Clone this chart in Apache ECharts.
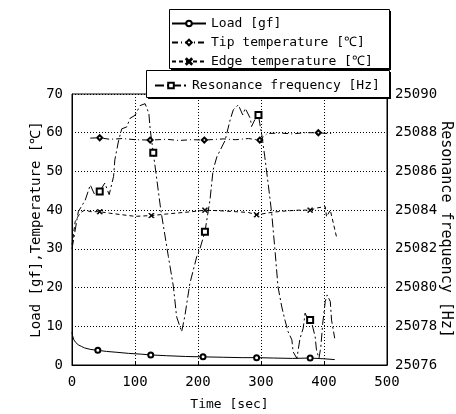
<!DOCTYPE html>
<html>
<head>
<meta charset="utf-8">
<script src="https://cdn.jsdelivr.net/npm/echarts@6/dist/echarts.min.js"></script>
<style>
    html, body { margin: 0; padding: 0; background: #fff; }
    #chart { width: 456px; height: 414px; }
</style>
</head>
<body>
<div id="chart"></div>
<script>
// 读图得到的数据
const xTicks = [0, 100, 200, 300, 400, 500];

const loadTime = [0, 1, 3, 6, 10, 15, 20, 30, 41, 55, 70, 90, 110, 125, 150, 180, 208, 240, 270, 293, 320, 350, 378, 400, 417];
const loadVal = [8.5, 7.5, 6.5, 5.8, 5.2, 4.8, 4.4, 4.0, 3.8, 3.5, 3.3, 3.0, 2.8, 2.6, 2.4, 2.2, 2.1, 2.0, 1.9, 1.9, 1.8, 1.7, 1.8, 1.6, 1.4];
const loadMarks = [41, 125, 208, 293, 378];

const tipTime = [29, 44, 60, 80, 100, 124, 150, 170, 190, 210, 240, 260, 280, 298, 310, 330, 350, 370, 391, 405, 412];
const tipVal = [58.6, 58.7, 58.3, 58.5, 58.2, 58.1, 58.3, 58.0, 58.2, 58.1, 58.4, 58.2, 58.5, 58.1, 59.8, 59.9, 59.7, 60.0, 60.0, 59.8, 59.8];
const tipMarks = [44, 124, 210, 298, 391];

const edgeTime = [0, 5, 10, 15, 20, 30, 44, 60, 80, 100, 126, 150, 170, 190, 211, 240, 260, 280, 293, 320, 340, 360, 378, 390, 402, 404, 410, 415, 420];
const edgeVal = [31, 37, 38.5, 39.5, 40, 39.6, 39.6, 39.2, 38.8, 38.4, 38.6, 39.0, 39.3, 39.6, 40.0, 39.8, 39.6, 39.4, 38.8, 39.5, 39.8, 40.0, 40.0, 40.6, 40.9, 38.3, 40.0, 36.5, 33.0];
const edgeMarks = [44, 126, 211, 293, 378];

const resoTime = [0, 10, 21, 29, 36, 44, 52, 59, 66, 68, 74, 79, 87, 92, 100, 108, 116, 122, 124, 129, 134, 141, 153, 161, 166, 174, 179, 187, 198, 203, 211, 219, 224, 230, 243, 251, 256, 264, 271, 275, 283, 285, 290, 296, 298, 301, 306, 312, 317, 322, 327, 333, 338, 343, 349, 351, 357, 359, 362, 367, 370, 375, 378, 380, 386, 388, 392, 395, 398, 402, 405, 410, 412, 417];
const resoHz = [25082.0, 25083.92, 25084.52, 25085.3, 25084.8, 25084.96, 25085.4, 25084.8, 25085.74, 25086.6, 25087.6, 25088.2, 25088.3, 25088.74, 25088.9, 25089.4, 25089.5, 25089.0, 25088.2, 25086.96, 25085.74, 25084.0, 25081.6, 25080.04, 25078.5, 25077.72, 25078.5, 25080.2, 25081.6, 25082.0, 25082.88, 25084.52, 25086.08, 25086.76, 25087.6, 25088.66, 25089.18, 25089.44, 25088.92, 25089.26, 25088.74, 25088.32, 25088.66, 25088.92, 25088.48, 25087.96, 25086.76, 25085.2, 25083.84, 25082.0, 25080.04, 25079.0, 25078.32, 25077.72, 25077.3, 25076.68, 25076.34, 25076.78, 25077.38, 25077.9, 25078.68, 25078.32, 25078.32, 25078.24, 25077.46, 25076.78, 25076.34, 25076.94, 25078.16, 25079.28, 25079.62, 25079.28, 25078.32, 25077.38];
const resoMarks = [44, 129, 211, 296, 378];

const FONT = 'DejaVu Sans Mono';
const CROSS = 'path://M0,1L1,0L5,4L9,0L10,1L6,5L10,9L9,10L5,6L1,10L0,9L4,5Z';

// 只在标记点显示符号
function buildData(times, vals, marks) {
    return times.map((t, i) => {
        const item = { value: [t, vals[i]] };
        if (marks.indexOf(t) < 0) {
            item.symbol = 'none';
        }
        return item;
    });
}

function lineSeries(name, data, symbol, size, dash, yIndex) {
    return {
        name: name,
        type: 'line',
        yAxisIndex: yIndex,
        data: data,
        symbol: symbol,
        symbolSize: size,
        showSymbol: true,
        z: 5,
        lineStyle: { color: '#000', width: 1, type: dash },
        itemStyle: { color: '#000', borderColor: '#000', borderWidth: 1 }
    };
}

const myEcharts = echarts.init(document.getElementById('chart'));
const option = {
    animation: false,
    backgroundColor: '#fff',
    grid: {
        left: 72,
        right: 69,
        top: 94,
        bottom: 49,
        outerBoundsMode: 'none',
        show: true,
        borderColor: '#000',
        borderWidth: 1
    },
    graphic: [
        { type: 'rect', left: 171, top: 11, z: 10, shape: { width: 220, height: 59 }, style: { fill: '#000' } },
        { type: 'rect', left: 169, top: 9, z: 11, shape: { width: 220, height: 59 }, style: { fill: '#fff', stroke: '#000', lineWidth: 1 } },
        { type: 'rect', left: 148, top: 72, z: 10, shape: { width: 243, height: 27 }, style: { fill: '#000' } },
        { type: 'rect', left: 146, top: 70, z: 11, shape: { width: 243, height: 27 }, style: { fill: '#fff', stroke: '#000', lineWidth: 1 } }
    ],
    legend: [
        {
            data: ['Load [gf]', 'Tip temperature [℃]', 'Edge temperature [℃]'],
            orient: 'vertical',
            left: 171,
            top: 17,
            padding: 0,
            itemWidth: 34,
            itemHeight: 7,
            itemGap: 6,
            selectedMode: false,
            z: 20,
            textStyle: { color: '#000', fontSize: 13, fontFamily: FONT }
        },
        {
            data: ['Resonance frequency [Hz]'],
            left: 154,
            top: 79,
            padding: 0,
            itemWidth: 32,
            itemHeight: 7,
            selectedMode: false,
            z: 20,
            textStyle: { color: '#000', fontSize: 13, fontFamily: FONT }
        }
    ],
    xAxis: {
        type: 'value',
        min: xTicks[0],
        max: xTicks[xTicks.length - 1],
        interval: 100,
        name: 'Time [sec]',
        nameLocation: 'middle',
        nameGap: 33,
        nameMoveOverlap: false,
        nameTextStyle: { color: '#000', fontSize: 13, fontFamily: FONT },
        axisLine: { lineStyle: { color: '#000', width: 1 } },
        axisTick: { inside: true, length: 4, lineStyle: { color: '#000' } },
        axisLabel: { color: '#000', fontSize: 14, fontFamily: FONT, margin: 10 },
        splitLine: { show: true, lineStyle: { color: '#000', type: [1, 2], width: 1 } }
    },
    yAxis: [
        {
            type: 'value',
            min: 0,
            max: 70,
            interval: 10,
            name: 'Load [gf],Temperature [℃]',
            nameLocation: 'middle',
            nameGap: 29,
            nameMoveOverlap: false,
            nameTextStyle: { color: '#000', fontSize: 14, fontFamily: FONT },
            axisLine: { show: true, lineStyle: { color: '#000', width: 1 } },
            axisTick: { show: false },
            axisLabel: { color: '#000', fontSize: 14, fontFamily: FONT, margin: 9 },
            splitLine: { show: true, lineStyle: { color: '#000', type: [1, 2], width: 1 } }
        },
        {
            type: 'value',
            min: 25076,
            max: 25090,
            interval: 2,
            position: 'right',
            name: 'Resonance frequency [Hz]',
            nameLocation: 'middle',
            nameGap: 51,
            nameRotate: -90,
            nameMoveOverlap: false,
            nameTextStyle: { color: '#000', fontSize: 15, fontFamily: FONT },
            axisLine: { show: true, lineStyle: { color: '#000', width: 1 } },
            axisTick: { show: false },
            axisLabel: { color: '#000', fontSize: 14, fontFamily: FONT, margin: 8, formatter: v => String(v) },
            splitLine: { show: false }
        }
    ],
    series: [
        lineSeries('Load [gf]', buildData(loadTime, loadVal, loadMarks), 'emptyCircle', 5, 'solid', 0),
        lineSeries('Tip temperature [℃]', buildData(tipTime, tipVal, tipMarks), 'emptyDiamond', 5, [6, 3, 1, 3], 0),
        lineSeries('Edge temperature [℃]', buildData(edgeTime, edgeVal, edgeMarks), CROSS, 5, [4, 3], 0),
        lineSeries('Resonance frequency [Hz]', buildData(resoTime, resoHz, resoMarks), 'emptyRect', 6, [9, 3, 2, 3], 1)
    ]
};
myEcharts.setOption(option);
</script>
</body>
</html>
